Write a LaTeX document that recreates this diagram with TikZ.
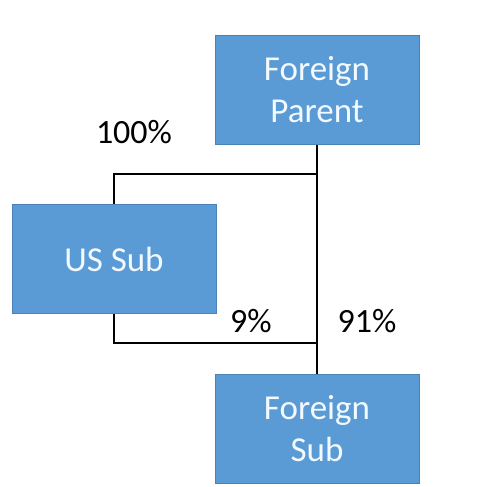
\documentclass[tikz,border=0pt]{standalone}
\usepackage{fontspec}
\setmainfont{Carlito}
\usepackage{tikz}
\usetikzlibrary{arrows.meta}
\definecolor{boxblue}{HTML}{5B9BD5}
\definecolor{boxedge}{HTML}{4A82B8}
\definecolor{boxtext}{HTML}{F2F9FF}
\tikzstyle{entity}=[rectangle, fill=boxblue, draw=boxedge, line width=1pt, minimum width=204pt, minimum height=109pt, align=center, text=boxtext, font=\fontsize{35}{42}\selectfont]
\tikzstyle{share}=[font=\fontsize{34}{40}\selectfont, text=black]
\tikzstyle{line}=[draw=black, line width=2.2pt]

\begin{document}
\begin{tikzpicture}[x=1pt, y=-1pt]
		   \useasboundingbox (0, 0) rectangle (480, 487);
		   \begin{scope}
			   \node (0) at (317, 90)[entity] {Foreign\\Parent};
			   \node (1) at (114, 259)[entity] {US Sub};
			   \node (2) at (317, 429)[entity] {Foreign\\Sub};
			   \node (3) at (134, 132)[share] {100\%};
			   \node (4) at (251, 321)[share] {9\%};
			   \node (5) at (367, 321)[share] {91\%};
			   \coordinate (6) at (317, 174);
			   \coordinate (7) at (317, 343);
		   \end{scope}
		   \begin{scope}
			   \path [line] (0.south) -- (2.north);
			   \path [line] (1.north) |- (6);
			   \path [line] (1.south) |- (7);
		   \end{scope}
	   \end{tikzpicture}
\end{document}
